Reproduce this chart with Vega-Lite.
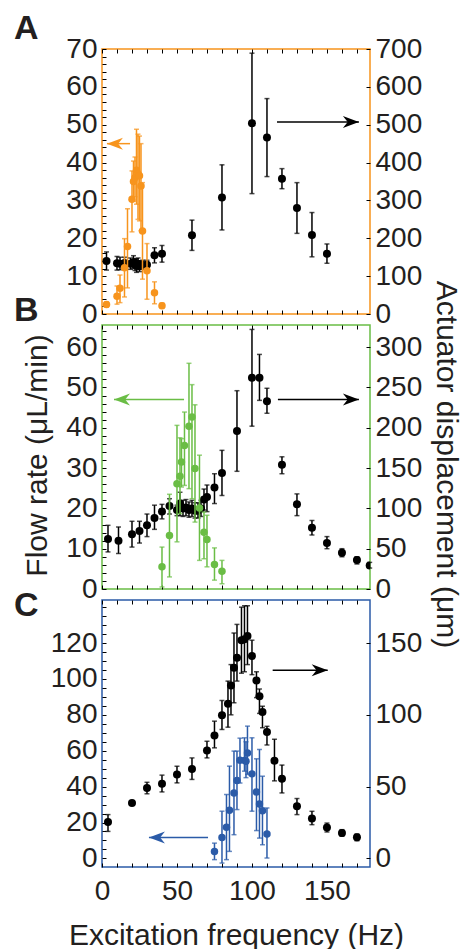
{
"$schema": "https://vega.github.io/schema/vega-lite/v6.json",
"padding": {"left": 13, "top": 11, "right": 6, "bottom": 0},
"config": {
  "font": "Liberation Sans",
  "view": {"strokeWidth": 1.5},
  "axis": {"grid": false, "domain": false, "tickColor": "#000000", "tickWidth": 1, "tickSize": -4, "labelFontSize": 28, "labelColor": "#231f20", "labelPadding": 9, "labelOverlap": false, "labelFlush": false, "labelBound": false, "titleFontSize": 30, "titleFontWeight": "normal", "titleColor": "#231f20"}
},
"datasets": {
  "dispA": [
    {"f":3,"v":140,"lo":116,"hi":164},{"f":10,"v":134,"lo":116,"hi":152},{"f":12,"v":133,"lo":117,"hi":150},{"f":15,"v":135,"lo":120,"hi":150},{"f":19,"v":133,"lo":118,"hi":148},{"f":21,"v":137,"lo":120,"hi":154},{"f":22,"v":130,"lo":115,"hi":145},{"f":23,"v":128,"lo":110,"hi":146},{"f":24,"v":133,"lo":118,"hi":148},{"f":25,"v":126,"lo":112,"hi":140},{"f":27,"v":130,"lo":118,"hi":142},{"f":30,"v":130,"lo":118,"hi":142},{"f":35,"v":155,"lo":135,"hi":175},{"f":40,"v":159,"lo":137,"hi":181},{"f":60,"v":208,"lo":168,"hi":248},{"f":80,"v":308,"lo":222,"hi":394},{"f":100,"v":504,"lo":318,"hi":689},{"f":110,"v":466,"lo":363,"hi":569},{"f":120,"v":357,"lo":331,"hi":384},{"f":130,"v":280,"lo":213,"hi":347},{"f":140,"v":209,"lo":151,"hi":268},{"f":150,"v":159,"lo":134,"hi":185}
  ],
  "flowA": [
    {"f":3,"v":2.5,"lo":1.8,"hi":3.2},{"f":10,"v":4.7,"lo":2.6,"hi":7.4},{"f":12,"v":6.8,"lo":3.0,"hi":10.3},{"f":15,"v":12.2,"lo":4.5,"hi":19.9},{"f":17,"v":17.8,"lo":6.9,"hi":27.8},{"f":20,"v":30.3,"lo":21.7,"hi":37.8},{"f":21,"v":35,"lo":29.8,"hi":40.4},{"f":22,"v":36,"lo":31,"hi":41.5},{"f":23,"v":38,"lo":29,"hi":48.8},{"f":24,"v":37,"lo":25,"hi":47.5},{"f":25,"v":36.5,"lo":24.6,"hi":47},{"f":26,"v":33.8,"lo":22,"hi":45},{"f":27,"v":21.9,"lo":9.2,"hi":34.7},{"f":30,"v":11.4,"lo":3.9,"hi":18.6},{"f":35,"v":5.6,"lo":2.7,"hi":8.5},{"f":40,"v":2.2,"lo":1.5,"hi":2.9}
  ],
  "dispB": [
    {"f":4,"v":62,"lo":46,"hi":79},{"f":11,"v":60,"lo":44,"hi":77},{"f":20,"v":68,"lo":52,"hi":84},{"f":25,"v":72,"lo":57,"hi":84},{"f":30,"v":79,"lo":65,"hi":93},{"f":35,"v":88,"lo":74,"hi":104},{"f":40,"v":96,"lo":87,"hi":105},{"f":45,"v":103,"lo":93,"hi":112},{"f":50,"v":98,"lo":91,"hi":104},{"f":52,"v":106,"lo":91,"hi":120},{"f":54,"v":100,"lo":90,"hi":110},{"f":56,"v":101,"lo":91,"hi":111},{"f":58,"v":98,"lo":89,"hi":108},{"f":60,"v":100,"lo":90,"hi":110},{"f":62,"v":97,"lo":88,"hi":107},{"f":64,"v":97,"lo":88,"hi":107},{"f":66,"v":100,"lo":90,"hi":110},{"f":68,"v":111,"lo":98,"hi":124},{"f":70,"v":114,"lo":96,"hi":129},{"f":75,"v":126,"lo":106,"hi":143},{"f":80,"v":144,"lo":116,"hi":172},{"f":90,"v":196,"lo":146,"hi":246},{"f":100,"v":262,"lo":202,"hi":322},{"f":105,"v":262,"lo":234,"hi":291},{"f":110,"v":233,"lo":218,"hi":249},{"f":120,"v":154,"lo":143,"hi":164},{"f":130,"v":105,"lo":91,"hi":118},{"f":140,"v":76,"lo":67,"hi":85},{"f":150,"v":57,"lo":50,"hi":65},{"f":160,"v":45,"lo":40,"hi":50},{"f":170,"v":36,"lo":31,"hi":40},{"f":178.5,"v":29,"lo":26,"hi":33}
  ],
  "flowB": [
    {"f":40,"v":5.5,"lo":0.5,"hi":10.4},{"f":45,"v":13.3,"lo":3,"hi":23.5},{"f":50,"v":26.1,"lo":11.7,"hi":40.6},{"f":52,"v":28,"lo":18.7,"hi":37.5},{"f":53,"v":31.5,"lo":25.3,"hi":37.3},{"f":55,"v":35.6,"lo":25.7,"hi":43.9},{"f":58,"v":40.4,"lo":24.9,"hi":56},{"f":60,"v":42.7,"lo":22.4,"hi":50.7},{"f":62,"v":29.9,"lo":16.6,"hi":45.7},{"f":65,"v":20.1,"lo":7.1,"hi":33.2},{"f":68,"v":14.1,"lo":7.5,"hi":19.1},{"f":70,"v":12.3,"lo":5.5,"hi":18.3},{"f":75,"v":6.1,"lo":2.2,"hi":10.2},{"f":80,"v":4.4,"lo":1.3,"hi":7.1}
  ],
  "dispC": [
    {"f":4,"v":25.3,"lo":18.8,"hi":30.5},{"f":20,"v":38.6,"lo":38.6,"hi":38.6},{"f":30,"v":49,"lo":45,"hi":53},{"f":40,"v":52,"lo":46.3,"hi":58},{"f":50,"v":58.4,"lo":52.6,"hi":64.2},{"f":60,"v":62.3,"lo":55,"hi":70},{"f":70,"v":75.2,"lo":70,"hi":81.6},{"f":75,"v":85.6,"lo":77,"hi":95.6},{"f":80,"v":99.8,"lo":89.8,"hi":110},{"f":84,"v":107.7,"lo":91.4,"hi":123.5},{"f":86,"v":120.5,"lo":100,"hi":135},{"f":88,"v":132.8,"lo":108.4,"hi":157},{"f":90,"v":139.8,"lo":123.5,"hi":163},{"f":93,"v":152,"lo":129,"hi":175},{"f":95,"v":152.6,"lo":130,"hi":176},{"f":97,"v":155,"lo":135,"hi":176},{"f":100,"v":141,"lo":128,"hi":152},{"f":103,"v":124,"lo":112,"hi":130},{"f":105,"v":113,"lo":101,"hi":118},{"f":107,"v":102,"lo":91,"hi":106},{"f":110,"v":88,"lo":79,"hi":92},{"f":115,"v":68,"lo":54,"hi":83},{"f":120,"v":55.4,"lo":45.6,"hi":65},{"f":130,"v":36.3,"lo":30.5,"hi":41.7},{"f":140,"v":27.7,"lo":23.5,"hi":32.8},{"f":150,"v":21.6,"lo":18.4,"hi":24.6},{"f":160,"v":17.7,"lo":15.4,"hi":20},{"f":170,"v":14.7,"lo":12.3,"hi":17}
  ],
  "flowC": [
    {"f":75,"v":3.9,"lo":-0.7,"hi":8.5},{"f":80,"v":11.7,"lo":-2.6,"hi":26.3},{"f":83,"v":17.3,"lo":-0.7,"hi":35.6},{"f":85,"v":26.8,"lo":3.9,"hi":51.4},{"f":88,"v":36.5,"lo":13.2,"hi":59.8},{"f":90,"v":43.4,"lo":27.2,"hi":59.8},{"f":92,"v":54.7,"lo":42,"hi":67},{"f":95,"v":54.6,"lo":48.6,"hi":67.2},{"f":96,"v":54.2,"lo":45,"hi":65},{"f":97,"v":58.8,"lo":46.8,"hi":73.7},{"f":100,"v":47.1,"lo":26.3,"hi":67.2},{"f":103,"v":37,"lo":15.5,"hi":55.5},{"f":105,"v":30.3,"lo":11.3,"hi":60.7},{"f":107,"v":26.6,"lo":7.6,"hi":45.8},{"f":110,"v":13.6,"lo":0.2,"hi":28.1}
  ],
  "arrows": [
    {"panel":"A","side":"flow","tip":3.3,"tail":18.7,"v":45},
    {"panel":"A","side":"disp","tip":171.3,"tail":116.7,"v":507},
    {"panel":"B","side":"flow","tip":8,"tail":54.7,"v":47},
    {"panel":"B","side":"disp","tip":171.3,"tail":117.3,"v":235},
    {"panel":"C","side":"flow","tip":31.3,"tail":70.7,"v":11.7},
    {"panel":"C","side":"disp","tip":150.5,"tail":113.8,"v":131}
  ]
},
"vconcat": [
 {
  "width": 268, "height": 265,
  "view": {"stroke": "#F7941D", "strokeWidth": 1.5},
  "title": {"text": "A", "anchor": "start", "frame": "group", "orient": "top", "offset": 0, "dx": -88, "dy": 38, "baseline": "alphabetic", "fontSize": 34, "fontWeight": "bold", "color": "#231f20"},
  "layer": [
   {"layer": [
    {"data": {"name": "dispA"}, "mark": {"type": "errorbar", "ticks": true, "size": 5, "thickness": 1.5, "color": "#000000"},
     "encoding": {"x": {"field": "f", "type": "quantitative", "scale": {"domain": [0,178.7], "nice": false, "zero": false}, "axis": {"orient": "top", "values": [0,10,20,30,40,50,60,70,80,90,100,110,120,130,140,150,160,170], "labels": false, "title": null}},
      "y": {"field": "lo", "type": "quantitative", "scale": {"domain": [0,700], "nice": false, "zero": false}, "axis": {"orient": "right", "values": [0,100,200,300,400,500,600,700], "title": null}},
      "y2": {"field": "hi"}}},
    {"data": {"name": "dispA"}, "mark": {"type": "circle", "size": 64, "color": "#000000", "opacity": 1},
     "encoding": {"x": {"field": "f", "type": "quantitative", "scale": {"domain": [0,178.7], "nice": false, "zero": false}, "axis": {"orient": "top", "values": [0,10,20,30,40,50,60,70,80,90,100,110,120,130,140,150,160,170], "labels": false, "title": null}},
      "y": {"field": "v", "type": "quantitative", "scale": {"domain": [0,700], "nice": false, "zero": false}, "axis": {"orient": "right", "values": [0,100,200,300,400,500,600,700], "title": null}}}},
    {"data": {"name": "arrows"}, "transform": [{"filter": "datum.panel === 'A' && datum.side === 'disp'"}], "mark": {"type": "rule", "strokeWidth": 1.5, "color": "#000000"},
     "encoding": {"x": {"field": "tip", "type": "quantitative", "scale": {"domain": [0,178.7], "nice": false, "zero": false}, "axis": {"orient": "top", "values": [0,10,20,30,40,50,60,70,80,90,100,110,120,130,140,150,160,170], "labels": false, "title": null}}, "x2": {"field": "tail"},
      "y": {"field": "v", "type": "quantitative", "scale": {"domain": [0,700], "nice": false, "zero": false}, "axis": {"orient": "right", "values": [0,100,200,300,400,500,600,700], "title": null}}}},
    {"data": {"name": "arrows"}, "transform": [{"filter": "datum.panel === 'A' && datum.side === 'disp'"}], "mark": {"type": "point", "shape": "M0,0L-2,-0.75L-1.4,0L-2,0.75Z", "size": 256, "filled": true, "color": "#000000", "opacity": 1},
     "encoding": {"x": {"field": "tip", "type": "quantitative", "scale": {"domain": [0,178.7], "nice": false, "zero": false}, "axis": {"orient": "top", "values": [0,10,20,30,40,50,60,70,80,90,100,110,120,130,140,150,160,170], "labels": false, "title": null}},
      "y": {"field": "v", "type": "quantitative", "scale": {"domain": [0,700], "nice": false, "zero": false}, "axis": {"orient": "right", "values": [0,100,200,300,400,500,600,700], "title": null}}}}
   ]},
   {"layer": [
    {"data": {"name": "flowA"}, "mark": {"type": "errorbar", "ticks": true, "size": 5, "thickness": 1.5, "color": "#F7941D"},
     "encoding": {"x": {"field": "f", "type": "quantitative", "scale": {"domain": [0,178.7], "nice": false, "zero": false}, "axis": {"orient": "bottom", "values": [0,10,20,30,40,50,60,70,80,90,100,110,120,130,140,150,160,170], "labels": false, "title": null}},
      "y": {"field": "lo", "type": "quantitative", "scale": {"domain": [0,70], "nice": false, "zero": false}, "axis": {"orient": "left", "values": [0,2,4,6,8,10,12,14,16,18,20,22,24,26,28,30,32,34,36,38,40,42,44,46,48,50,52,54,56,58,60,62,64,66,68,70], "labelExpr": "datum.value % 10 === 0 ? datum.label : ''", "title": null}},
      "y2": {"field": "hi"}}},
    {"data": {"name": "flowA"}, "mark": {"type": "circle", "size": 56, "color": "#F7941D", "opacity": 1},
     "encoding": {"x": {"field": "f", "type": "quantitative", "scale": {"domain": [0,178.7], "nice": false, "zero": false}, "axis": {"orient": "bottom", "values": [0,10,20,30,40,50,60,70,80,90,100,110,120,130,140,150,160,170], "labels": false, "title": null}},
      "y": {"field": "v", "type": "quantitative", "scale": {"domain": [0,70], "nice": false, "zero": false}, "axis": {"orient": "left", "values": [0,2,4,6,8,10,12,14,16,18,20,22,24,26,28,30,32,34,36,38,40,42,44,46,48,50,52,54,56,58,60,62,64,66,68,70], "labelExpr": "datum.value % 10 === 0 ? datum.label : ''", "title": null}}}},
    {"data": {"name": "arrows"}, "transform": [{"filter": "datum.panel === 'A' && datum.side === 'flow'"}], "mark": {"type": "rule", "strokeWidth": 1.5, "color": "#F7941D"},
     "encoding": {"x": {"field": "tip", "type": "quantitative", "scale": {"domain": [0,178.7], "nice": false, "zero": false}, "axis": {"orient": "bottom", "values": [0,10,20,30,40,50,60,70,80,90,100,110,120,130,140,150,160,170], "labels": false, "title": null}}, "x2": {"field": "tail"},
      "y": {"field": "v", "type": "quantitative", "scale": {"domain": [0,70], "nice": false, "zero": false}, "axis": {"orient": "left", "values": [0,2,4,6,8,10,12,14,16,18,20,22,24,26,28,30,32,34,36,38,40,42,44,46,48,50,52,54,56,58,60,62,64,66,68,70], "labelExpr": "datum.value % 10 === 0 ? datum.label : ''", "title": null}}}},
    {"data": {"name": "arrows"}, "transform": [{"filter": "datum.panel === 'A' && datum.side === 'flow'"}], "mark": {"type": "point", "shape": "M0,0L2,-0.75L1.4,0L2,0.75Z", "size": 256, "filled": true, "color": "#F7941D", "opacity": 1},
     "encoding": {"x": {"field": "tip", "type": "quantitative", "scale": {"domain": [0,178.7], "nice": false, "zero": false}, "axis": {"orient": "bottom", "values": [0,10,20,30,40,50,60,70,80,90,100,110,120,130,140,150,160,170], "labels": false, "title": null}},
      "y": {"field": "v", "type": "quantitative", "scale": {"domain": [0,70], "nice": false, "zero": false}, "axis": {"orient": "left", "values": [0,2,4,6,8,10,12,14,16,18,20,22,24,26,28,30,32,34,36,38,40,42,44,46,48,50,52,54,56,58,60,62,64,66,68,70], "labelExpr": "datum.value % 10 === 0 ? datum.label : ''", "title": null}}}}
   ]}
  ],
  "resolve": {"scale": {"y": "independent"}, "axis": {"x": "independent", "y": "independent"}}
 },
 {
  "width": 268, "height": 264,
  "view": {"stroke": "#6ABD45", "strokeWidth": 1.5},
  "title": {"text": "B", "anchor": "start", "frame": "group", "orient": "top", "offset": 0, "dx": -88, "dy": 75, "baseline": "alphabetic", "fontSize": 34, "fontWeight": "bold", "color": "#231f20"},
  "layer": [
   {"layer": [
    {"data": {"name": "dispB"}, "mark": {"type": "errorbar", "ticks": true, "size": 5, "thickness": 1.5, "color": "#000000"},
     "encoding": {"x": {"field": "f", "type": "quantitative", "scale": {"domain": [0,178.7], "nice": false, "zero": false}, "axis": {"orient": "top", "values": [0,10,20,30,40,50,60,70,80,90,100,110,120,130,140,150,160,170], "labels": false, "title": null}},
      "y": {"field": "lo", "type": "quantitative", "scale": {"domain": [0,327.5], "nice": false, "zero": false}, "axis": {"orient": "right", "values": [0,50,100,150,200,250,300], "title": "Actuator displacement (μm)", "titlePadding": 9, "titleY": 139}},
      "y2": {"field": "hi"}}},
    {"data": {"name": "dispB"}, "mark": {"type": "circle", "size": 64, "color": "#000000", "opacity": 1, "clip": true},
     "encoding": {"x": {"field": "f", "type": "quantitative", "scale": {"domain": [0,178.7], "nice": false, "zero": false}, "axis": {"orient": "top", "values": [0,10,20,30,40,50,60,70,80,90,100,110,120,130,140,150,160,170], "labels": false, "title": null}},
      "y": {"field": "v", "type": "quantitative", "scale": {"domain": [0,327.5], "nice": false, "zero": false}, "axis": {"orient": "right", "values": [0,50,100,150,200,250,300], "title": "Actuator displacement (μm)", "titlePadding": 9, "titleY": 139}}}},
    {"data": {"name": "arrows"}, "transform": [{"filter": "datum.panel === 'B' && datum.side === 'disp'"}], "mark": {"type": "rule", "strokeWidth": 1.5, "color": "#000000"},
     "encoding": {"x": {"field": "tip", "type": "quantitative", "scale": {"domain": [0,178.7], "nice": false, "zero": false}, "axis": {"orient": "top", "values": [0,10,20,30,40,50,60,70,80,90,100,110,120,130,140,150,160,170], "labels": false, "title": null}}, "x2": {"field": "tail"},
      "y": {"field": "v", "type": "quantitative", "scale": {"domain": [0,327.5], "nice": false, "zero": false}, "axis": {"orient": "right", "values": [0,50,100,150,200,250,300], "title": "Actuator displacement (μm)", "titlePadding": 9, "titleY": 139}}}},
    {"data": {"name": "arrows"}, "transform": [{"filter": "datum.panel === 'B' && datum.side === 'disp'"}], "mark": {"type": "point", "shape": "M0,0L-2,-0.75L-1.4,0L-2,0.75Z", "size": 256, "filled": true, "color": "#000000", "opacity": 1},
     "encoding": {"x": {"field": "tip", "type": "quantitative", "scale": {"domain": [0,178.7], "nice": false, "zero": false}, "axis": {"orient": "top", "values": [0,10,20,30,40,50,60,70,80,90,100,110,120,130,140,150,160,170], "labels": false, "title": null}},
      "y": {"field": "v", "type": "quantitative", "scale": {"domain": [0,327.5], "nice": false, "zero": false}, "axis": {"orient": "right", "values": [0,50,100,150,200,250,300], "title": "Actuator displacement (μm)", "titlePadding": 9, "titleY": 139}}}}
   ]},
   {"layer": [
    {"data": {"name": "flowB"}, "mark": {"type": "errorbar", "ticks": true, "size": 5, "thickness": 1.5, "color": "#6ABD45"},
     "encoding": {"x": {"field": "f", "type": "quantitative", "scale": {"domain": [0,178.7], "nice": false, "zero": false}, "axis": {"orient": "bottom", "values": [0,10,20,30,40,50,60,70,80,90,100,110,120,130,140,150,160,170], "labels": false, "title": null}},
      "y": {"field": "lo", "type": "quantitative", "scale": {"domain": [0,65.5], "nice": false, "zero": false}, "axis": {"orient": "left", "values": [0,2,4,6,8,10,12,14,16,18,20,22,24,26,28,30,32,34,36,38,40,42,44,46,48,50,52,54,56,58,60,62,64], "labelExpr": "datum.value % 10 === 0 ? datum.label : ''", "title": "Flow rate (μL/min)", "titlePadding": 13, "titleY": 130}},
      "y2": {"field": "hi"}}},
    {"data": {"name": "flowB"}, "mark": {"type": "circle", "size": 56, "color": "#6ABD45", "opacity": 1},
     "encoding": {"x": {"field": "f", "type": "quantitative", "scale": {"domain": [0,178.7], "nice": false, "zero": false}, "axis": {"orient": "bottom", "values": [0,10,20,30,40,50,60,70,80,90,100,110,120,130,140,150,160,170], "labels": false, "title": null}},
      "y": {"field": "v", "type": "quantitative", "scale": {"domain": [0,65.5], "nice": false, "zero": false}, "axis": {"orient": "left", "values": [0,2,4,6,8,10,12,14,16,18,20,22,24,26,28,30,32,34,36,38,40,42,44,46,48,50,52,54,56,58,60,62,64], "labelExpr": "datum.value % 10 === 0 ? datum.label : ''", "title": "Flow rate (μL/min)", "titlePadding": 13, "titleY": 130}}}},
    {"data": {"name": "arrows"}, "transform": [{"filter": "datum.panel === 'B' && datum.side === 'flow'"}], "mark": {"type": "rule", "strokeWidth": 1.5, "color": "#6ABD45"},
     "encoding": {"x": {"field": "tip", "type": "quantitative", "scale": {"domain": [0,178.7], "nice": false, "zero": false}, "axis": {"orient": "bottom", "values": [0,10,20,30,40,50,60,70,80,90,100,110,120,130,140,150,160,170], "labels": false, "title": null}}, "x2": {"field": "tail"},
      "y": {"field": "v", "type": "quantitative", "scale": {"domain": [0,65.5], "nice": false, "zero": false}, "axis": {"orient": "left", "values": [0,2,4,6,8,10,12,14,16,18,20,22,24,26,28,30,32,34,36,38,40,42,44,46,48,50,52,54,56,58,60,62,64], "labelExpr": "datum.value % 10 === 0 ? datum.label : ''", "title": "Flow rate (μL/min)", "titlePadding": 13, "titleY": 130}}}},
    {"data": {"name": "arrows"}, "transform": [{"filter": "datum.panel === 'B' && datum.side === 'flow'"}], "mark": {"type": "point", "shape": "M0,0L2,-0.75L1.4,0L2,0.75Z", "size": 256, "filled": true, "color": "#6ABD45", "opacity": 1},
     "encoding": {"x": {"field": "tip", "type": "quantitative", "scale": {"domain": [0,178.7], "nice": false, "zero": false}, "axis": {"orient": "bottom", "values": [0,10,20,30,40,50,60,70,80,90,100,110,120,130,140,150,160,170], "labels": false, "title": null}},
      "y": {"field": "v", "type": "quantitative", "scale": {"domain": [0,65.5], "nice": false, "zero": false}, "axis": {"orient": "left", "values": [0,2,4,6,8,10,12,14,16,18,20,22,24,26,28,30,32,34,36,38,40,42,44,46,48,50,52,54,56,58,60,62,64], "labelExpr": "datum.value % 10 === 0 ? datum.label : ''", "title": "Flow rate (μL/min)", "titlePadding": 13, "titleY": 130}}}}
   ]}
  ],
  "resolve": {"scale": {"y": "independent"}, "axis": {"x": "independent", "y": "independent"}}
 },
 {
  "width": 268, "height": 267,
  "view": {"stroke": "#2B5BA8", "strokeWidth": 1.5},
  "title": {"text": "C", "anchor": "start", "frame": "group", "orient": "top", "offset": 0, "dx": -88, "dy": 57, "baseline": "alphabetic", "fontSize": 34, "fontWeight": "bold", "color": "#231f20"},
  "layer": [
   {"layer": [
    {"data": {"name": "dispC"}, "mark": {"type": "errorbar", "ticks": true, "size": 5, "thickness": 1.5, "color": "#000000"},
     "encoding": {"x": {"field": "f", "type": "quantitative", "scale": {"domain": [0,178.7], "nice": false, "zero": false}, "axis": {"orient": "top", "values": [0,10,20,30,40,50,60,70,80,90,100,110,120,130,140,150,160,170], "labels": false, "title": null}},
      "y": {"field": "lo", "type": "quantitative", "scale": {"domain": [-6,180], "nice": false, "zero": false}, "axis": {"orient": "right", "values": [0,50,100,150], "title": null}},
      "y2": {"field": "hi"}}},
    {"data": {"name": "dispC"}, "mark": {"type": "circle", "size": 64, "color": "#000000", "opacity": 1},
     "encoding": {"x": {"field": "f", "type": "quantitative", "scale": {"domain": [0,178.7], "nice": false, "zero": false}, "axis": {"orient": "top", "values": [0,10,20,30,40,50,60,70,80,90,100,110,120,130,140,150,160,170], "labels": false, "title": null}},
      "y": {"field": "v", "type": "quantitative", "scale": {"domain": [-6,180], "nice": false, "zero": false}, "axis": {"orient": "right", "values": [0,50,100,150], "title": null}}}},
    {"data": {"name": "arrows"}, "transform": [{"filter": "datum.panel === 'C' && datum.side === 'disp'"}], "mark": {"type": "rule", "strokeWidth": 1.5, "color": "#000000"},
     "encoding": {"x": {"field": "tip", "type": "quantitative", "scale": {"domain": [0,178.7], "nice": false, "zero": false}, "axis": {"orient": "top", "values": [0,10,20,30,40,50,60,70,80,90,100,110,120,130,140,150,160,170], "labels": false, "title": null}}, "x2": {"field": "tail"},
      "y": {"field": "v", "type": "quantitative", "scale": {"domain": [-6,180], "nice": false, "zero": false}, "axis": {"orient": "right", "values": [0,50,100,150], "title": null}}}},
    {"data": {"name": "arrows"}, "transform": [{"filter": "datum.panel === 'C' && datum.side === 'disp'"}], "mark": {"type": "point", "shape": "M0,0L-2,-0.75L-1.4,0L-2,0.75Z", "size": 256, "filled": true, "color": "#000000", "opacity": 1},
     "encoding": {"x": {"field": "tip", "type": "quantitative", "scale": {"domain": [0,178.7], "nice": false, "zero": false}, "axis": {"orient": "top", "values": [0,10,20,30,40,50,60,70,80,90,100,110,120,130,140,150,160,170], "labels": false, "title": null}},
      "y": {"field": "v", "type": "quantitative", "scale": {"domain": [-6,180], "nice": false, "zero": false}, "axis": {"orient": "right", "values": [0,50,100,150], "title": null}}}}
   ]},
   {"layer": [
    {"data": {"name": "flowC"}, "mark": {"type": "errorbar", "ticks": true, "size": 5, "thickness": 1.5, "color": "#2B5BA8"},
     "encoding": {"x": {"field": "f", "type": "quantitative", "scale": {"domain": [0,178.7], "nice": false, "zero": false}, "axis": {"orient": "bottom", "values": [0,10,20,30,40,50,60,70,80,90,100,110,120,130,140,150,160,170], "labelExpr": "datum.value % 50 === 0 ? datum.label : ''", "labelPadding": 14, "title": "Excitation frequency (Hz)", "titlePadding": 15}},
      "y": {"field": "lo", "type": "quantitative", "scale": {"domain": [-4.8,144], "nice": false, "zero": false}, "axis": {"orient": "left", "values": [0,5,10,15,20,25,30,35,40,45,50,55,60,65,70,75,80,85,90,95,100,105,110,115,120,125,130,135,140], "labelExpr": "datum.value % 20 === 0 && datum.value <= 120 ? datum.label : ''", "title": null}},
      "y2": {"field": "hi"}}},
    {"data": {"name": "flowC"}, "mark": {"type": "circle", "size": 56, "color": "#2B5BA8", "opacity": 1},
     "encoding": {"x": {"field": "f", "type": "quantitative", "scale": {"domain": [0,178.7], "nice": false, "zero": false}, "axis": {"orient": "bottom", "values": [0,10,20,30,40,50,60,70,80,90,100,110,120,130,140,150,160,170], "labelExpr": "datum.value % 50 === 0 ? datum.label : ''", "labelPadding": 14, "title": "Excitation frequency (Hz)", "titlePadding": 15}},
      "y": {"field": "v", "type": "quantitative", "scale": {"domain": [-4.8,144], "nice": false, "zero": false}, "axis": {"orient": "left", "values": [0,5,10,15,20,25,30,35,40,45,50,55,60,65,70,75,80,85,90,95,100,105,110,115,120,125,130,135,140], "labelExpr": "datum.value % 20 === 0 && datum.value <= 120 ? datum.label : ''", "title": null}}}},
    {"data": {"name": "arrows"}, "transform": [{"filter": "datum.panel === 'C' && datum.side === 'flow'"}], "mark": {"type": "rule", "strokeWidth": 1.5, "color": "#2B5BA8"},
     "encoding": {"x": {"field": "tip", "type": "quantitative", "scale": {"domain": [0,178.7], "nice": false, "zero": false}, "axis": {"orient": "bottom", "values": [0,10,20,30,40,50,60,70,80,90,100,110,120,130,140,150,160,170], "labelExpr": "datum.value % 50 === 0 ? datum.label : ''", "labelPadding": 14, "title": "Excitation frequency (Hz)", "titlePadding": 15}}, "x2": {"field": "tail"},
      "y": {"field": "v", "type": "quantitative", "scale": {"domain": [-4.8,144], "nice": false, "zero": false}, "axis": {"orient": "left", "values": [0,5,10,15,20,25,30,35,40,45,50,55,60,65,70,75,80,85,90,95,100,105,110,115,120,125,130,135,140], "labelExpr": "datum.value % 20 === 0 && datum.value <= 120 ? datum.label : ''", "title": null}}}},
    {"data": {"name": "arrows"}, "transform": [{"filter": "datum.panel === 'C' && datum.side === 'flow'"}], "mark": {"type": "point", "shape": "M0,0L2,-0.75L1.4,0L2,0.75Z", "size": 256, "filled": true, "color": "#2B5BA8", "opacity": 1},
     "encoding": {"x": {"field": "tip", "type": "quantitative", "scale": {"domain": [0,178.7], "nice": false, "zero": false}, "axis": {"orient": "bottom", "values": [0,10,20,30,40,50,60,70,80,90,100,110,120,130,140,150,160,170], "labelExpr": "datum.value % 50 === 0 ? datum.label : ''", "labelPadding": 14, "title": "Excitation frequency (Hz)", "titlePadding": 15}},
      "y": {"field": "v", "type": "quantitative", "scale": {"domain": [-4.8,144], "nice": false, "zero": false}, "axis": {"orient": "left", "values": [0,5,10,15,20,25,30,35,40,45,50,55,60,65,70,75,80,85,90,95,100,105,110,115,120,125,130,135,140], "labelExpr": "datum.value % 20 === 0 && datum.value <= 120 ? datum.label : ''", "title": null}}}}
   ]}
  ],
  "resolve": {"scale": {"y": "independent"}, "axis": {"x": "independent", "y": "independent"}}
 }
],
"spacing": 11,
"bounds": "flush"
}
